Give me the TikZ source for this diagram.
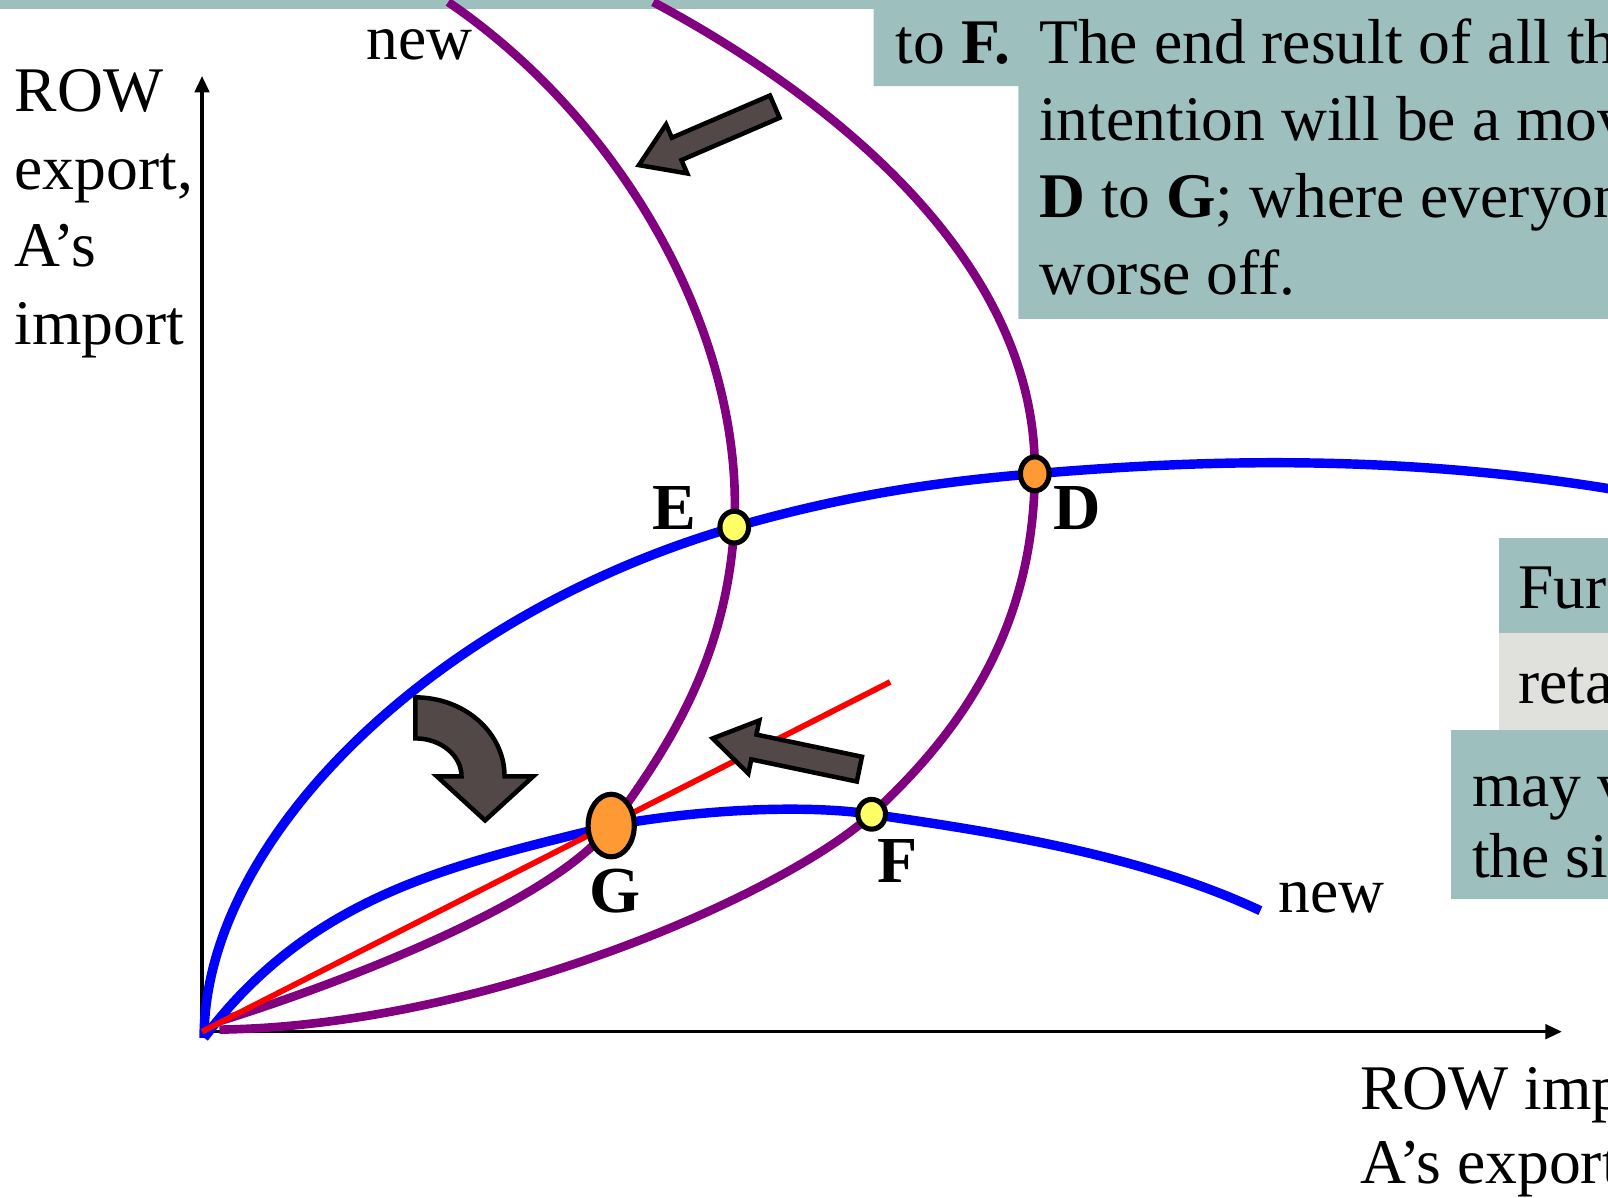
\documentclass[tikz,border=0pt]{standalone}
\usepackage{fontspec}
\setmainfont{Liberation Serif}
\usetikzlibrary{arrows.meta,shapes.geometric}
\definecolor{hiteal}{HTML}{9DC0BF}
\definecolor{higray}{HTML}{E0E1DC}
\definecolor{arrowfill}{HTML}{524848}
\definecolor{dotorange}{HTML}{FF9933}
\definecolor{dotyellow}{HTML}{FFFF66}
\definecolor{purp}{HTML}{800080}
\begin{document}
\begin{tikzpicture}[x=0.5pt,y=-0.5pt,
  txt/.style={font=\fontsize{31}{38}\selectfont, inner sep=0pt, anchor=base west},
  lbl/.style={font=\fontsize{32}{38}\selectfont\bfseries, inner sep=0pt},
  blueline/.style={blue, line width=4.6pt},
  purpline/.style={purp, line width=4.2pt},
  dot/.style={ellipse, draw=black, line width=2.5pt, inner sep=0pt},
  blockarrow/.style={fill=arrowfill, draw=black, line width=2.2pt, line join=miter},
  axisline/.style={line width=1.7pt, -{Triangle[length=8pt,width=7pt]}},
]
\useasboundingbox (0,0) rectangle (1568,1168);
\clip (0,0) rectangle (1568,1168);
% highlighted text boxes
\fill[hiteal] (0,0) rectangle (852,9);
\fill[hiteal] (852,0) -- (1568,0) -- (1568,311) -- (993,311) -- (993,84) -- (852,84) -- cycle;
\fill[hiteal] (1462,525) rectangle (1568,617);
\fill[higray] (1462,617) rectangle (1568,712);
\fill[hiteal] (1415,712) rectangle (1568,877);

% texts
\node[txt] (tof) at (873,62) {to \textbf{F.}};
\node[txt] (t1) at (1013,62) {The end result of all th};
\node[txt] (t2) at (1013,137) {intention will be a mov};
\node[txt] (t3) at (1013,212) {\textbf{D} to \textbf{G}; where everyon};
\node[txt] (t4) at (1013,287) {worse off.};
\node[txt] (r1) at (1480,593) {Fur};
\node[txt] (r2) at (1480,686) {reta};
\node[txt] (r3) at (1435,786) {may v};
\node[txt] (r4) at (1435,856) {the si};

\node[txt] (y1) at (14,109) {ROW};
\node[txt] (y2) at (14,184.5) {export,};
\node[txt] (y3) at (14,260) {A’s};
\node[txt] (y4) at (14,335.5) {import};
\node[txt] (x1) at (1326,1082) {ROW imp};
\node[txt] (x2) at (1326,1154) {A’s export};
\node[txt] (n1) at (357,58.5) {new};
\node[txt] (n2) at (1246,890) {new};

% key points
\coordinate (O) at (197,1006);
\coordinate (pD) at (1009,462);
\coordinate (pE) at (716,514);
\coordinate (pF) at (850,794);
\coordinate (pG) at (596,805);
\coordinate (Ytip) at (197,74);
\coordinate (Xtip) at (1523,1006);
\coordinate (Rend) at (868,665);

% axes
\draw[axisline] ([yshift=-1pt]O) -- (Ytip);
\draw[axisline] ([xshift=-1pt]O) -- (Xtip);

% purple curves
\draw[purpline] (437,2) .. controls (610,120) and (726,330) .. (pE)
  .. controls (708,640) and (655,725) .. (pG)
  .. controls (540,880) and (330,960) .. (210,997);
\draw[purpline] (637,2) .. controls (820,100) and (1012,260) .. (pD)
  .. controls (1008,620) and (930,720) .. (pF)
  .. controls (770,868) and (480,1000) .. (214,1004);
% blue curves
\draw[blueline] (199,1012) .. controls (199,820) and (420,600) .. (pE)
  .. controls (820,484) and (910,470) .. (pD)
  .. controls (1150,450) and (1350,440) .. (1578,478);
\draw[blueline] (199,1012) .. controls (305,871) and (444,843) .. (pG)
  .. controls (690,788) and (790,785) .. (pF)
  .. controls (960,810) and (1110,832) .. (1229,888);
% red ray
\draw[red, line width=2.8pt] (O) -- (Rend);

% block arrows
\draw[blockarrow] (750.8,93.1) -- (655.1,134.3) -- (649.5,121.3) -- (623,161) -- (670.1,169.1) -- (664.5,156.1) -- (760.2,114.9) -- cycle;
\draw[blockarrow] (840.5,737.9) -- (737.6,716.3) -- (740.5,702.5) -- (695,720) -- (729.7,754.3) -- (732.6,740.5) -- (835.5,762.1) -- cycle;
\draw[blockarrow] (405,680) arc[start angle=-90, end angle=0, x radius=87, y radius=77] -- (520,757) -- (473,800) -- (426,757) -- (450,757) arc[start angle=0, end angle=-90, x radius=45, y radius=37] -- cycle;

% points
\node[dot, fill=dotorange, minimum width=14pt, minimum height=16.5pt] (D) at (pD) {};
\node[dot, fill=dotyellow, minimum width=14pt, minimum height=15.5pt] (E) at (pE) {};
\node[dot, fill=dotyellow, minimum width=13.5pt, minimum height=14.5pt] (F) at (pF) {};
\node[dot, fill=dotorange, minimum width=22.5pt, minimum height=30.5pt] (G) at (pG) {};
\node[lbl] (Dl) at (1050,495) {D};
\node[lbl] (El) at (658,495) {E};
\node[lbl] (Fl) at (875,840) {F};
\node[lbl] (Gl) at (600,869) {G};
\end{tikzpicture}
\end{document}
